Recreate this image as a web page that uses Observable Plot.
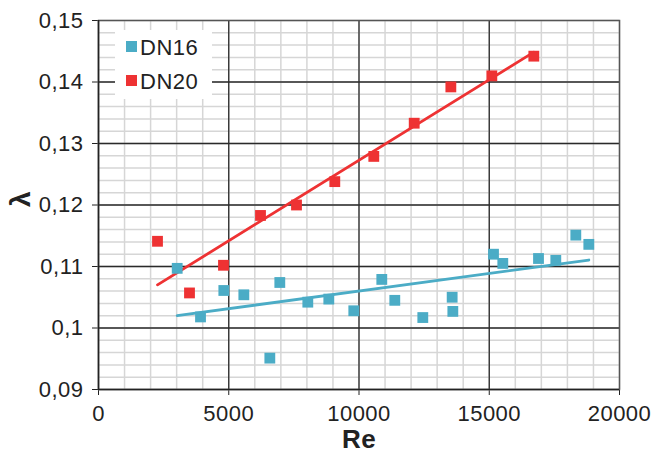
<!DOCTYPE html>
<html><head><meta charset="utf-8">
<script src="https://cdn.jsdelivr.net/npm/d3@7"></script>
<script src="https://cdn.jsdelivr.net/npm/@observablehq/plot@0.6"></script>
<style>
body{margin:0;background:#fff;font-family:"Liberation Sans",Arial,sans-serif;}
#wrap{position:relative;width:656px;height:457px;}
#legend{position:absolute;left:115px;top:30px;width:97px;height:69px;background:#fff;}
.item{position:absolute;left:0;font-size:22px;letter-spacing:0.5px;color:#222;line-height:1;}
.sw{position:absolute;width:10.5px;height:10.5px;}
</style></head><body><div id="wrap"></div>
<script>
const seriesNames = ["DN16", "DN20"];
const seriesColors = ["#4bacc6", "#ee3233"];
const dn16Re = [3021, 3916, 4811, 5579, 6577, 6960, 8035, 8841, 9800, 10875, 11374, 12449, 13576, 13602, 15163, 15520, 16891, 17555, 18323, 18822];
const dn16Lambda = [0.1097, 0.1018, 0.1061, 0.1054, 0.0951, 0.1074, 0.1042, 0.1047, 0.1028, 0.1079, 0.1045, 0.1017, 0.1050, 0.1027, 0.1120, 0.1105, 0.1113, 0.1110, 0.1151, 0.1136];
const dn20Re = [2265, 3493, 4798, 6219, 7601, 9071, 10568, 12119, 13526, 15099, 16711];
const dn20Lambda = [0.1141, 0.1057, 0.1102, 0.1183, 0.1200, 0.1238, 0.1279, 0.1333, 0.1392, 0.1410, 0.1442];
const xTicks = [0, 5000, 10000, 15000, 20000];
const yTicks = [0.09, 0.10, 0.11, 0.12, 0.13, 0.14, 0.15];
const xLabel = "Re";
const yLabel = "λ";

const data = [
  ...dn16Re.map((re, i) => ({series: seriesNames[0], re, lambda: dn16Lambda[i]})),
  ...dn20Re.map((re, i) => ({series: seriesNames[1], re, lambda: dn20Lambda[i]}))
];
const xMinor = d3.range(0, 21).map(i => i * 1000);
const yMinor = d3.range(45, 76).map(i => i * 0.002);
const yFmt = d => String(+d.toFixed(2)).replace(".", ",");

const chart = Plot.plot({
  width: 656, height: 457,
  marginLeft: 98, marginRight: 37, marginTop: 20, marginBottom: 68,
  style: {fontSize: "22px", fontFamily: '"Liberation Sans", Arial, sans-serif', color: "#222", letterSpacing: "0.5px", background: "#fff"},
  x: {domain: [0, 20000], ticks: xTicks, tickFormat: d => String(d), tickSize: 6, tickPadding: 10, label: null},
  y: {domain: [0.09, 0.15], ticks: yTicks, tickFormat: yFmt, tickSize: 6, tickPadding: 9, label: null},
  color: {domain: seriesNames, range: seriesColors},
  marks: [
    Plot.ruleX(xMinor, {stroke: "#d6d6d6", strokeWidth: 1.5}),
    Plot.ruleY(yMinor, {stroke: "#d6d6d6", strokeWidth: 1.5}),
    Plot.ruleX(xTicks.slice(1, -1), {stroke: "#2a2a2a", strokeWidth: 1.3}),
    Plot.ruleY(yTicks.slice(1, -1), {stroke: "#2a2a2a", strokeWidth: 1.3}),
    Plot.frame({stroke: "#555", strokeWidth: 1.5}),
    Plot.ruleX([0], {stroke: "#222", strokeWidth: 1.5}),
    Plot.ruleY([0.09], {stroke: "#222", strokeWidth: 1.5}),
    Plot.linearRegressionY(data, {x: "re", y: "lambda", stroke: "series", ci: 0, strokeWidth: 2.8}),
    Plot.dot(data, {x: "re", y: "lambda", fill: "series", symbol: "square", r: 6.1}),
    Plot.text([xLabel], {frameAnchor: "bottom", dy: 58, text: d => d, fontSize: 26, fontWeight: "bold", letterSpacing: "0px"}),
    Plot.text([yLabel], {frameAnchor: "left", dx: -77, dy: 2, text: d => d, fontSize: 28, fontWeight: "bold", rotate: -90})
  ]
});
const wrap = document.getElementById("wrap");
wrap.appendChild(chart);
const legend = document.createElement("div");
legend.id = "legend";
seriesNames.forEach((name, i) => {
  const sw = document.createElement("div");
  sw.className = "sw";
  sw.style.background = seriesColors[i];
  sw.style.left = "11px";
  sw.style.top = (11 + i * 34) + "px";
  legend.appendChild(sw);
  const t = document.createElement("div");
  t.className = "item";
  t.textContent = name;
  t.style.left = "25px";
  t.style.top = (7 + i * 34) + "px";
  legend.appendChild(t);
});
wrap.appendChild(legend);
</script></body></html>
